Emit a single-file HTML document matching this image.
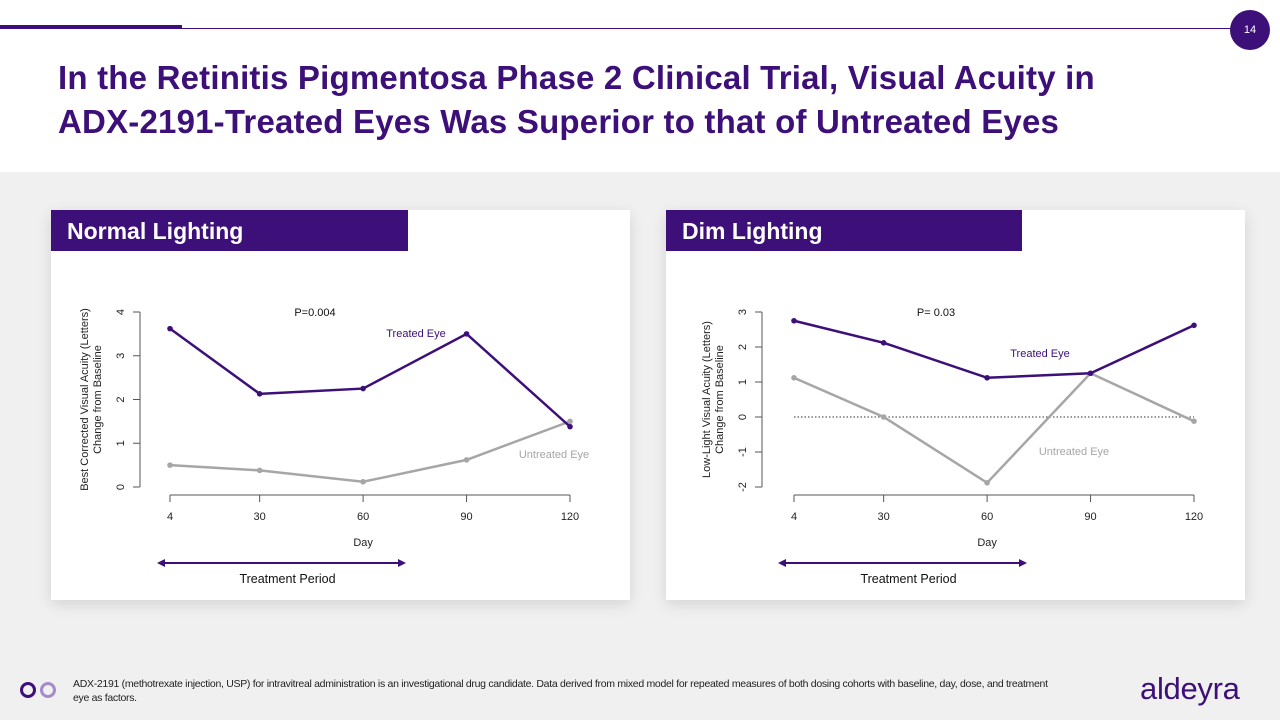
<!DOCTYPE html>
<html><head><meta charset="utf-8">
<style>
body{margin:0;width:1280px;height:720px;background:#f0f0f0;font-family:"Liberation Sans",sans-serif;position:relative;overflow:hidden}
.hdr{position:absolute;left:0;top:0;width:1280px;height:172px;background:#fff}
.title{position:absolute;left:58px;top:56px;font-size:33px;font-weight:bold;color:#3d0f78;line-height:44px;letter-spacing:0.2px;white-space:nowrap}
.panel{position:absolute;top:210px;width:579px;height:390px;background:#fff;box-shadow:0 4px 14px rgba(0,0,0,0.12)}
.tab{position:absolute;left:0;top:0;height:41px;background:#3d0f78;color:#fff;font-weight:bold;font-size:23px;line-height:43px;padding-left:16px;box-sizing:border-box}
.foot{position:absolute;left:73px;top:677px;font-size:10.5px;color:#222;line-height:14px;letter-spacing:-0.3px;width:985px}
</style></head><body>
<div class="hdr"></div>
<div style="position:absolute;left:0;top:25px;width:182px;height:4px;background:#3d0f78"></div>
<div style="position:absolute;left:182px;top:28px;width:1050px;height:1px;background:#3d0f78"></div>
<div style="position:absolute;left:1230px;top:10px;width:40px;height:40px;border-radius:50%;background:#3d0f78;color:#fff;font-size:11px;text-align:center;line-height:40px">14</div>
<div class="title">In the Retinitis Pigmentosa Phase 2 Clinical Trial, Visual Acuity in<br>ADX-2191-Treated Eyes Was Superior to that of Untreated Eyes</div>

<div class="panel" style="left:51px">
<div class="tab" style="width:357px">Normal Lighting</div></div>
<div class="panel" style="left:666px">
<div class="tab" style="width:356px">Dim Lighting</div></div>

<svg id="chart" width="1280" height="720" style="position:absolute;left:0;top:0" font-family="Liberation Sans, sans-serif"></svg>

<div style="position:absolute;left:19px;top:681px;width:40px;height:18px">
<svg width="40" height="18"><circle cx="9" cy="9" r="6.5" fill="none" stroke="#3d0f78" stroke-width="3"/><circle cx="29" cy="9" r="6.5" fill="none" stroke="#a58bc9" stroke-width="3"/></svg></div>
<div class="foot">ADX-2191 (methotrexate injection, USP) for intravitreal administration is an investigational drug candidate. Data derived from mixed model for repeated measures of both dosing cohorts with baseline, day, dose, and treatment eye as factors.</div>
<div style="position:absolute;left:1140px;top:671px;font-size:31px;color:#3d0f78;letter-spacing:-0.3px">aldeyra</div>

<script>
const days=[4,30,60,90,120];
const dayLabels=["4","30","60","90","120"];
const normTreated=[3.62,2.13,2.25,3.5,1.38];
const normUntreated=[0.5,0.38,0.12,0.62,1.5];
const normTicks=[0,1,2,3,4];
const dimTreated=[2.75,2.12,1.12,1.25,2.62];
const dimUntreated=[1.12,0,-1.88,1.25,-0.12];
const dimTicks=[-2,-1,0,1,2,3];
const svg=document.getElementById('chart');
const NS='http://www.w3.org/2000/svg';
function mk(tag,attrs,text){const e=document.createElementNS(NS,tag);for(const k in attrs)e.setAttribute(k,attrs[k]);if(text!==undefined)e.textContent=text;svg.appendChild(e);return e;}
function chart(o){
  const xs=d=>o.x0+(d-4)*(o.x1-o.x0)/116;
  const ys=v=>o.yBot-(v-o.ymin)*(o.yBot-o.yTop)/(o.ymax-o.ymin);
  let a=mk('line',{x1:o.ax,x2:o.ax,y1:ys(o.ymin),y2:ys(o.ymax),stroke:'#555','stroke-width':1});
  
  o.ticks.forEach(t=>{
    mk('line',{x1:o.ax-7,x2:o.ax,y1:ys(t),y2:ys(t),stroke:'#555'});
    const tl=mk('text',{x:o.ax-20,y:ys(t)+4,'font-size':11,fill:'#222','text-anchor':'middle',transform:`rotate(-90 ${o.ax-20} ${ys(t)})`},String(t));
    
  });
  let xa=mk('line',{x1:xs(4),x2:xs(120),y1:495,y2:495,stroke:'#555'});
  
  days.forEach((d,i)=>{
    mk('line',{x1:xs(d),x2:xs(d),y1:495,y2:502,stroke:'#555'});
    const tl=mk('text',{x:xs(d),y:520,'font-size':11,fill:'#222','text-anchor':'middle'},dayLabels[i]);
    
  });
  let xt=mk('text',{x:xs(60),y:546,'font-size':11,fill:'#222','text-anchor':'middle'},'Day');
  
  const cx=o.ax-50,cy=(o.yTop+o.yBot)/2;
  let yt=mk('text',{x:cx,y:cy,'font-size':11,fill:'#222','text-anchor':'middle',transform:`rotate(-90 ${cx} ${cy})`});
  
  o.ytitle.forEach((s,i)=>{const ts=document.createElementNS(NS,'tspan');ts.setAttribute('x',cx);ts.setAttribute('dy',i?13:-2);ts.textContent=s;yt.appendChild(ts);});
  if(o.zero){let z=mk('line',{x1:xs(4),x2:xs(120),y1:ys(0),y2:ys(0),stroke:'#333','stroke-dasharray':'1.5 2','stroke-width':1});}
  [[o.un,'#a6a6a6','untreated'],[o.tr,'#3d0f78','treated']].forEach(([vals,c,n])=>{
    const p=mk('polyline',{points:vals.map((v,i)=>xs(days[i])+','+ys(v)).join(' '),fill:'none',stroke:c,'stroke-width':2.5});
    
    vals.forEach((v,i)=>{const m=mk('circle',{cx:xs(days[i]),cy:ys(v),r:2.8,fill:c});
      });
  });
  let pv=mk('text',{x:o.px,y:316,'font-size':11,fill:'#111','text-anchor':'middle'},o.p);
  
  let l1=mk('text',{x:o.tlx,y:o.tly,'font-size':11,fill:'#3d0f78','text-anchor':'middle'},'Treated Eye');
  
  let l2=mk('text',{x:o.ulx,y:o.uly,'font-size':11,fill:'#a6a6a6','text-anchor':'middle'},'Untreated Eye');
  
  const a1=o.arL,a2=o.arR;
  let ar=mk('line',{x1:a1+6,x2:a2-6,y1:563,y2:563,stroke:'#3d0f78','stroke-width':2});
  
  mk('polygon',{points:`${a1},563 ${a1+8},559 ${a1+8},567`,fill:'#3d0f78'});
  mk('polygon',{points:`${a2},563 ${a2-8},559 ${a2-8},567`,fill:'#3d0f78'});
  let tp=mk('text',{x:(a1+a2)/2+6,y:583,'font-size':12.5,fill:'#111','text-anchor':'middle'},'Treatment Period');
  
}
chart({id:'normal',x0:170,x1:570,ax:140,yTop:312,yBot:487,ymin:0,ymax:4,ticks:normTicks,tr:normTreated,un:normUntreated,
  ytitle:['Best Corrected Visual Acuity (Letters)','Change from Baseline'],p:'P=0.004',px:315,tlx:416,tly:337,ulx:554,uly:458,arL:157,arR:406});
chart({id:'dim',x0:794,x1:1194,ax:762,yTop:312,yBot:487,ymin:-2,ymax:3,ticks:dimTicks,tr:dimTreated,un:dimUntreated,zero:true,
  ytitle:['Low-Light Visual Acuity (Letters)','Change from Baseline'],p:'P= 0.03',px:936,tlx:1040,tly:357,ulx:1074,uly:455,arL:778,arR:1027});
</script>
</body></html>
